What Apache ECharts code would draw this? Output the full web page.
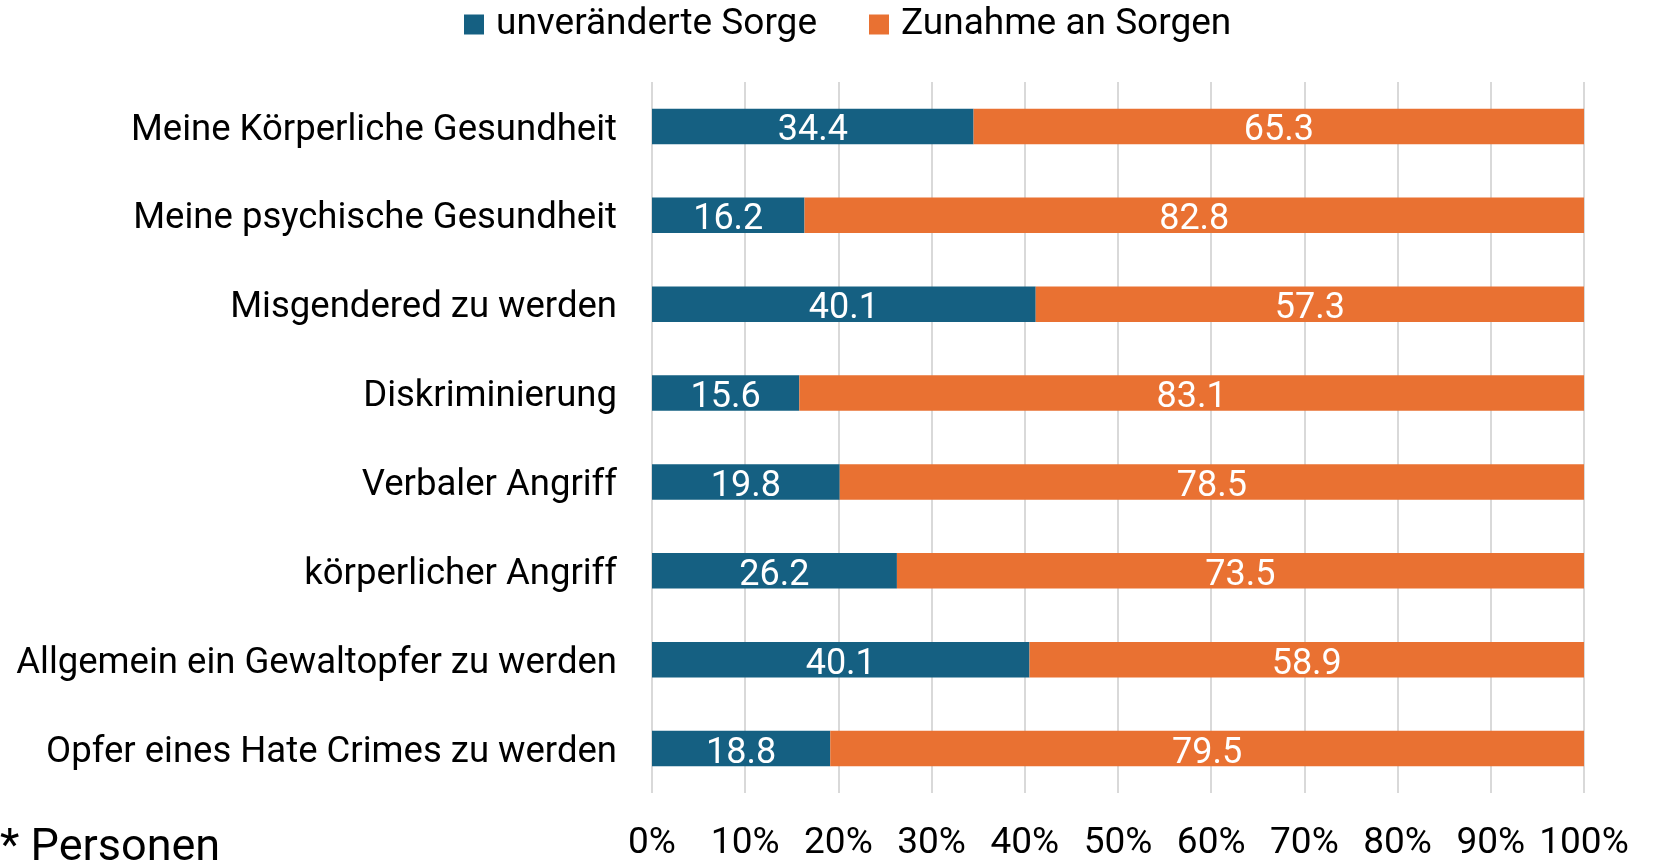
<!DOCTYPE html>
<html>
<head>
<meta charset="utf-8">
<script src="https://cdn.jsdelivr.net/npm/echarts@6/dist/echarts.min.js"></script>
<style>
  html, body { margin: 0; padding: 0; background: #fff; }
  #chart { width: 1663px; height: 862px; }
</style>
</head>
<body>
<div id="chart"></div>
<script>
// categories, top to bottom as in the picture
const categories = [
  'Meine Körperliche Gesundheit',
  'Meine psychische Gesundheit',
  'Misgendered zu werden',
  'Diskriminierung',
  'Verbaler Angriff',
  'körperlicher Angriff',
  'Allgemein ein Gewaltopfer zu werden',
  'Opfer eines Hate Crimes zu werden'
];
const unveraendert = [34.4, 16.2, 40.1, 15.6, 19.8, 26.2, 40.1, 18.8];
const zunahme = [65.3, 82.8, 57.3, 83.1, 78.5, 73.5, 58.9, 79.5];
const seriesNames = ['unveränderte Sorge', 'Zunahme an Sorgen'];
const xTicks = [0, 10, 20, 30, 40, 50, 60, 70, 80, 90, 100];

const FONT = 'Roboto';
const BLUE = '#156082';
const ORANGE = '#E97132';

// 100% stacked: each bar is scaled to its own total
const share = (arr, i) => arr[i] / (unveraendert[i] + zunahme[i]) * 100;

const chart = echarts.init(document.getElementById('chart'));

const labelStyle = (raw) => ({
  show: true,
  position: 'inside',
  offset: [0, 5],
  color: '#fff',
  fontFamily: FONT,
  fontSize: 36,
  formatter: (p) => raw[p.dataIndex].toFixed(1)
});

chart.setOption({
  animation: false,
  textStyle: { fontFamily: FONT },
  legend: {
    data: seriesNames,
    left: 459,
    top: 1,
    icon: 'rect',
    itemWidth: 20,
    itemHeight: 20,
    itemGap: 52,
    textStyle: { fontSize: 37, color: '#000', fontFamily: FONT, padding: [0, 0, 0, 7] }
  },
  grid: { left: 652, right: 79, top: 82, bottom: 64 },
  xAxis: {
    type: 'value',
    min: 0,
    max: 100,
    interval: 10,
    axisLine: { show: false },
    axisTick: { show: false },
    splitLine: { lineStyle: { color: '#D9D9D9', width: 2 } },
    axisLabel: {
      margin: 32,
      fontSize: 37,
      color: '#000',
      fontFamily: FONT,
      formatter: (v) => xTicks.includes(v) ? v + '%' : ''
    }
  },
  yAxis: {
    type: 'category',
    inverse: true,
    data: categories,
    axisLine: { show: false },
    axisTick: { show: false },
    axisLabel: {
      margin: 35,
      color: '#000',
      formatter: (v) => '{c|' + v + '}',
      rich: { c: { fontSize: 36.5, fontFamily: FONT, color: '#000', padding: [8, 0, 0, 0] } }
    }
  },
  graphic: [{
    type: 'text',
    left: 0,
    top: 826,
    style: { text: '* Personen', fontSize: 45, fill: '#000', fontFamily: FONT }
  }],
  series: [
    {
      name: seriesNames[0],
      type: 'bar',
      stack: 'total',
      barCategoryGap: '60%',
      itemStyle: { color: BLUE },
      label: labelStyle(unveraendert),
      data: unveraendert.map((v, i) => share(unveraendert, i))
    },
    {
      name: seriesNames[1],
      type: 'bar',
      stack: 'total',
      barCategoryGap: '60%',
      itemStyle: { color: ORANGE },
      label: labelStyle(zunahme),
      data: zunahme.map((v, i) => share(zunahme, i))
    }
  ]
});
</script>
</body>
</html>
